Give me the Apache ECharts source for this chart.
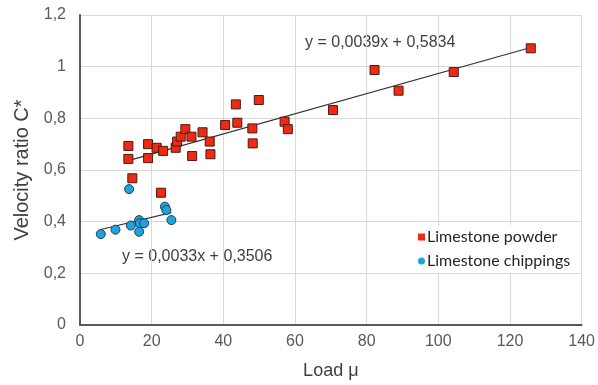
<!DOCTYPE html>
<html>
<head>
<meta charset="utf-8">
<script src="https://cdn.jsdelivr.net/npm/echarts@6/dist/echarts.min.js"></script>
<style>html,body{margin:0;padding:0;background:#fff}#c{width:598px;height:385px}</style>
</head>
<body>
<div id="c"></div>
<script>
// Limestone powder: [load, velocity ratio]
var powderX = [13.5, 13.5, 19.0, 19.0, 21.4, 23.2, 26.7, 27.1, 28.1, 29.4, 31.1, 31.3, 34.2, 36.2, 36.4, 40.5, 43.5, 43.9, 48.1, 48.2, 49.9, 14.6, 22.6, 57.1, 58.0, 70.6, 82.2, 88.9, 104.3, 125.8];
var powderY = [0.693, 0.643, 0.700, 0.646, 0.686, 0.674, 0.686, 0.710, 0.729, 0.758, 0.729, 0.654, 0.746, 0.710, 0.661, 0.774, 0.854, 0.783, 0.761, 0.703, 0.871, 0.568, 0.512, 0.787, 0.758, 0.832, 0.987, 0.907, 0.979, 1.071];
// Limestone chippings
var chipX = [5.8, 9.9, 13.7, 14.2, 16.5, 16.7, 17.9, 16.5, 23.7, 24.1, 25.5];
var chipY = [0.352, 0.369, 0.526, 0.385, 0.406, 0.394, 0.394, 0.361, 0.458, 0.445, 0.406];
// trendline coefficients [slope, intercept]
var powderTrend = [0.0039, 0.5834];
var chipTrend = [0.0033, 0.3506];
var powderEq = 'y = 0,0039x + 0,5834';
var chipEq = 'y = 0,0033x + 0,3506';
var seriesNames = ['Limestone powder', 'Limestone chippings'];

function pairs(xs, ys){ return xs.map(function(x,i){ return [x, ys[i]]; }); }
function trend(xs, c){
  var mn = Math.min.apply(null, xs), mx = Math.max.apply(null, xs);
  return [[mn, c[0]*mn + c[1]], [mx, c[0]*mx + c[1]]];
}
function fmt(v){ return String(Number(v.toFixed(1))).replace('.', ','); }

var chart = echarts.init(document.getElementById('c'), null, {renderer:'canvas'});
var tickFont = {fontFamily:'Liberation Sans', fontSize:16, color:'#595959'};
chart.setOption({
  animation:false,
  backgroundColor:'#ffffff',
  grid:{left:80, right:15, top:15, bottom:60},
  xAxis:{
    type:'value', min:0, max:140, interval:20,
    name:'Load μ', nameLocation:'middle', nameGap:37,
    nameTextStyle:{fontFamily:'Liberation Sans', fontSize:18, color:'#404040'},
    axisLine:{show:true, lineStyle:{color:'#595959', width:2}},
    axisTick:{show:false},
    axisLabel:Object.assign({margin:9, formatter:fmt}, tickFont),
    splitLine:{show:true, lineStyle:{color:'#d9d9d9', width:1}}
  },
  yAxis:{
    type:'value', min:0, max:1.2, interval:0.2,
    name:'Velocity ratio C*', nameLocation:'middle', nameGap:46,
    nameTextStyle:{fontFamily:'Liberation Sans', fontSize:20, color:'#404040'},
    axisLine:{show:true, lineStyle:{color:'#595959', width:2}},
    axisTick:{show:false},
    axisLabel:Object.assign({margin:14, formatter:fmt}, tickFont),
    splitLine:{show:true, lineStyle:{color:'#d9d9d9', width:1}}
  },
  legend:{
    data:[{name:seriesNames[0], icon:'rect'}, {name:seriesNames[1], icon:'circle'}],
    orient:'vertical', left:414, top:225,
    itemWidth:7, itemHeight:7, itemGap:8,
    itemStyle:{borderWidth:0},
    backgroundColor:'#ffffff', padding:[4,6,4,4],
    textStyle:{fontFamily:'Lato', fontSize:16, color:'#262626', padding:[0,0,0,-3]}
  },
  series:[
    {type:'line', data:trend(powderX, powderTrend), symbol:'none', silent:true,
     lineStyle:{color:'#333333', width:1.2}, z:2},
    {type:'line', data:trend(chipX, chipTrend), symbol:'none', silent:true,
     lineStyle:{color:'#333333', width:1.2}, z:2},
    {name:seriesNames[0], type:'scatter', data:pairs(powderX, powderY), symbol:'rect', symbolSize:9,
     itemStyle:{color:'#ee2a12', borderColor:'#4a1a12', borderWidth:1, opacity:1}, z:3},
    {name:seriesNames[1], type:'scatter', data:pairs(chipX, chipY), symbol:'circle', symbolSize:9,
     itemStyle:{color:'#1fa3dc', borderColor:'#1d3f58', borderWidth:1, opacity:1}, z:3}
  ],
  graphic:[
    {type:'text', left:305, top:35, style:{text:powderEq, font:'16px "Liberation Sans"', fill:'#404040'}},
    {type:'text', left:122, top:249, style:{text:chipEq, font:'16px "Liberation Sans"', fill:'#404040'}}
  ]
});
</script>
</body>
</html>
